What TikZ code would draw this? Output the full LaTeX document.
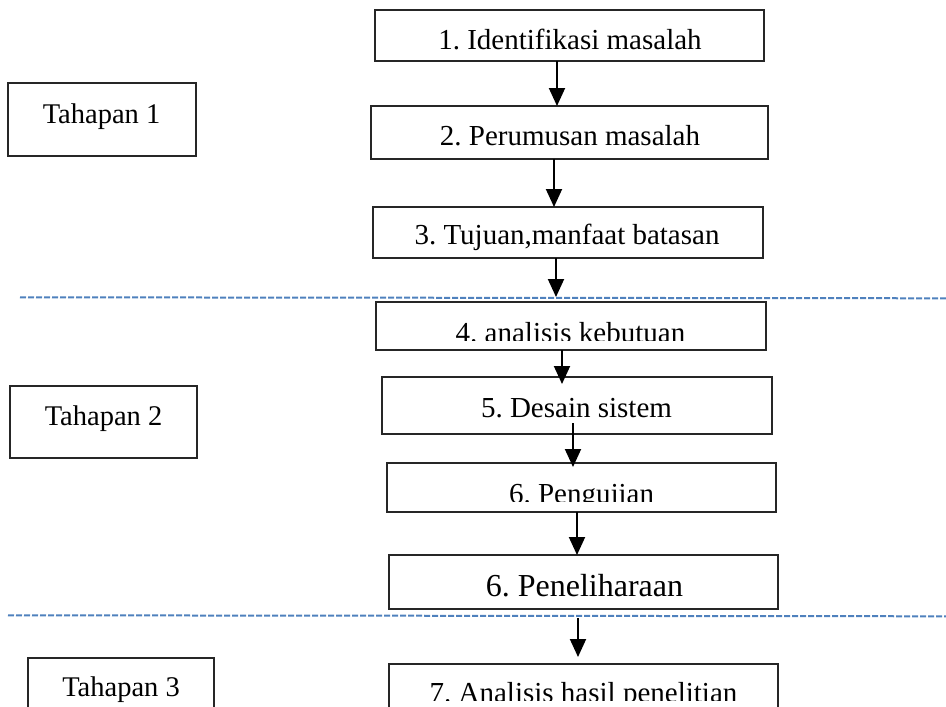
\documentclass[tikz,border=0pt]{standalone}
\usepackage{fontspec}
\setmainfont{Liberation Serif}
\usetikzlibrary{arrows.meta}
\definecolor{dashblue}{RGB}{79,129,189}
\frenchspacing
\begin{document}
\begin{tikzpicture}[x=1pt,y=-1pt,
  box/.style={draw=black!85,line width=1.2pt,fill=none,inner sep=0pt,outer sep=0pt},
  txt/.style={font=\fontsize{29}{35}\selectfont,inner sep=0pt,anchor=base},
  bigtxt/.style={font=\fontsize{32}{38}\selectfont,inner sep=0pt,anchor=base},
  stagetxt/.style={font=\fontsize{28.5}{34}\selectfont,inner sep=0pt,anchor=base},
  arr/.style={line width=1.9pt,-{Triangle[width=16pt,length=18pt]}},
  sep/.style={dashblue,line width=2pt,dash pattern=on 6pt off 2pt}]
\clip (0,0) rectangle (946,707);
\useasboundingbox (0,0) rectangle (946,707);

% separators
\coordinate (d1l) at (20,297.3);
\coordinate (d1r) at (946,298.3);
\coordinate (d2l) at (8,615.3);
\coordinate (d2r) at (946,616.3);
\draw[sep] (d1l) -- (d1r);
\draw[sep] (d2l) -- (d2r);

% stage boxes
\node[box,minimum width=188pt,minimum height=73pt] (T1) at (102,119.5) {};
\node[box,minimum width=187pt,minimum height=72pt] (T2) at (103.5,422) {};
\node[box,minimum width=186pt,minimum height=60pt] (T3) at (121,688) {};
\node[stagetxt] (tt1) at (101.5,123) {Tahapan 1};
\node[stagetxt] (tt2) at (103.5,425) {Tahapan 2};
\node[stagetxt] (tt3) at (121,696) {Tahapan 3};

% step boxes
\node[box,minimum width=389pt,minimum height=51pt] (b1) at (569.5,35.5) {};
\node[box,minimum width=397pt,minimum height=53pt] (b2) at (569.5,132.5) {};
\node[box,minimum width=390pt,minimum height=51pt] (b3) at (568,232.5) {};
\node[box,minimum width=390pt,minimum height=48pt] (b4) at (571,326) {};
\node[box,minimum width=390pt,minimum height=57pt] (b5) at (577,405.5) {};
\node[box,minimum width=389pt,minimum height=49pt] (b6) at (581.5,487.5) {};
\node[box,minimum width=389pt,minimum height=54pt] (b7) at (583.5,582) {};
\node[box,minimum width=389pt,minimum height=60pt] (b8) at (583.5,694) {};

\node[txt] (t1) at (570,49) {1. Identifikasi masalah};
\node[txt] (t2) at (570,145) {2. Perumusan masalah};
\node[txt] (t3) at (567,244) {3. Tujuan,manfaat batasan};
\begin{scope}
  \clip (380,304) rectangle (762,340);
  \node[txt] (t4) at (570.5,342) {4. analisis kebutuan};
\end{scope}
\node[txt] (t5) at (576.5,417) {5. Desain sistem};
\begin{scope}
  \clip (390,465) rectangle (772,501.5);
  \node[txt] (t6) at (581.5,503) {6. Pengujian};
\end{scope}
\node[bigtxt] (t7) at (584.5,596) {6. Peneliharaan};
\begin{scope}
  \clip (392,666) rectangle (775,700);
  \node[txt] (t8) at (583.5,702) {7. Analisis hasil penelitian};
\end{scope}

% arrows
\coordinate (x1) at (557,0);
\coordinate (x2) at (554,0);
\coordinate (x3) at (556,0);
\coordinate (x6) at (577,0);
\coordinate (e3) at (556,297);
\coordinate (e4) at (562,384);
\coordinate (s5) at (573,423);
\coordinate (e5) at (573,467);
\coordinate (s7) at (578,618);
\coordinate (e7) at (578,657);
\draw[arr] (b1.south -| x1) -- (b2.north -| x1);
\draw[arr] (b2.south -| x2) -- (b3.north -| x2);
\draw[arr] (b3.south -| x3) -- (e3);
\draw[arr] (b4.south -| e4) -- (e4);
\draw[arr] (s5) -- (e5);
\draw[arr] (b6.south -| x6) -- (b7.north -| x6);
\draw[arr] (s7) -- (e7);
\end{tikzpicture}
\end{document}
